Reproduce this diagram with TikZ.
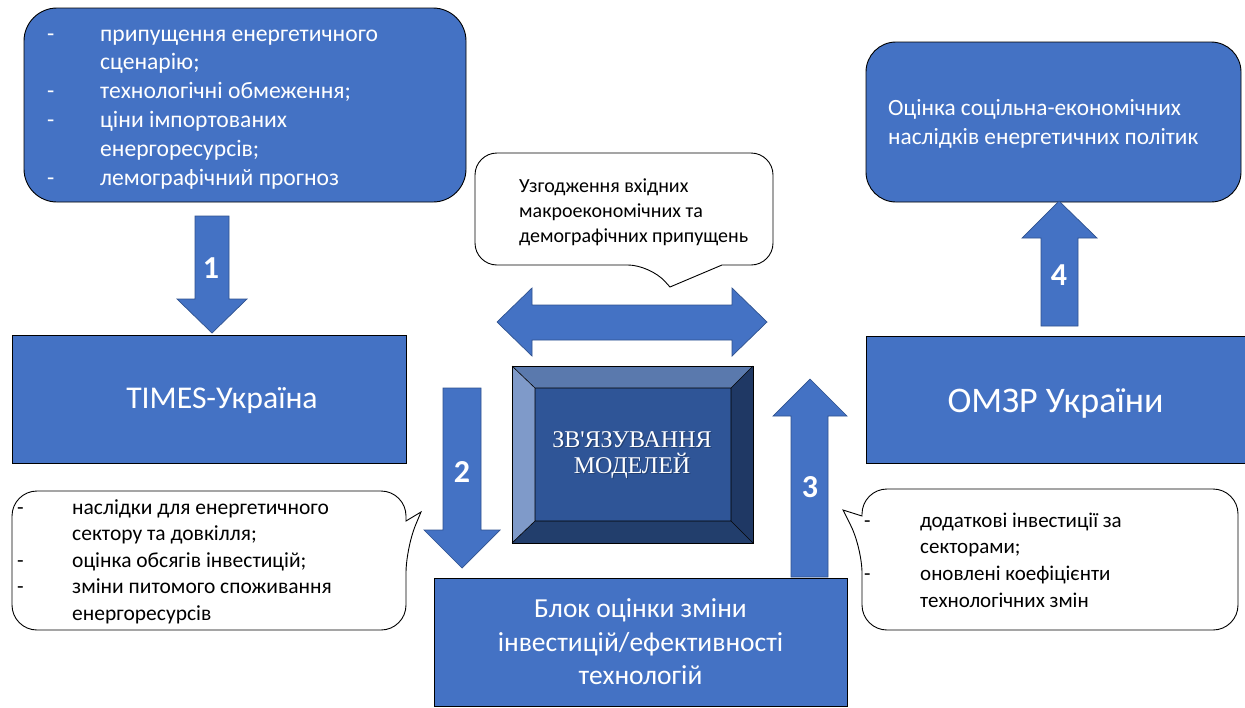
\documentclass[tikz,border=0pt]{standalone}
\usepackage{fontspec}
\setmainfont{Carlito}
\newfontfamily\bevelfont{Liberation Serif}
\definecolor{ofblue}{HTML}{4472C4}
\definecolor{ofedge}{HTML}{2F528F}
\definecolor{bvtop}{HTML}{5A79AD}
\definecolor{bvleft}{HTML}{7F9AC9}
\definecolor{bvright}{HTML}{1F3864}
\definecolor{bvbottom}{HTML}{223E6C}
\definecolor{bvcenter}{HTML}{2F5597}
\tikzset{
  bluebox/.style={draw=black, line width=0.9pt, fill=ofblue, inner sep=0pt},
  blockarrow/.style={draw=ofedge, line width=0.7pt, fill=ofblue},
  callout/.style={draw=black, line width=0.9pt, fill=white},
  numlabel/.style={text=white, font=\fontsize{32}{36}\selectfont\bfseries, inner sep=0pt},
  whitetext/.style={text=white, inner sep=0pt},
  blacktext/.style={text=black, inner sep=0pt},
}
\begin{document}
\begin{tikzpicture}[x=1pt,y=-1pt]
\useasboundingbox (0,0) rectangle (1245,707);
\fill[white] (0,0) rectangle (1245,707);

% top-left input box
\node[bluebox, rounded corners=33pt, minimum width=442pt, minimum height=194pt] (inbox) at (245,105) {};
\node[whitetext, anchor=base west, font=\fontsize{23.6}{28.8}\selectfont] (intext) at (47,41)
 {\begin{tabular}[t]{@{}p{53pt}@{}l@{}}
 - & припущення енергетичного\\
   & сценарію;\\
 - & технологічні обмеження;\\
 - & ціни імпортованих\\
   & енергоресурсів;\\
 - & лемографічний прогноз
 \end{tabular}};

% top-right output box
\node[bluebox, rounded corners=30pt, minimum width=375pt, minimum height=160pt] (outbox) at (1053.5,122) {};
\node[whitetext, anchor=base west, font=\fontsize{23.3}{29}\selectfont] (outtext) at (888,115)
 {\begin{tabular}[t]{@{}l@{}}Оцінка соцільна-економічних\\наслідків енергетичних політик\end{tabular}};

% model boxes
\node[bluebox, minimum width=394pt, minimum height=128pt] (times) at (209,399) {};
\node[whitetext, font=\fontsize{31.7}{36}\selectfont] (timestext) at (222,401) {TIMES-Україна};
\node[bluebox, minimum width=384pt, minimum height=127pt] (omzr) at (1058,399.5) {};
\node[whitetext, font=\fontsize{36}{40}\selectfont] (omzrtext) at (1055.5,403) {ОМЗР України};
\node[bluebox, minimum width=413pt, minimum height=128pt, font=\fontsize{27.5}{33.5}\selectfont, text=white, align=center] (block) at (640.5,642)
 {Блок оцінки зміни\\інвестицій/ефективності\\технологій};

% top callout
\draw[callout, rounded corners=22pt] (600,153) -- (475,153) -- (475,265) -- (650,265)
  [sharp corners] -- (670,287) -- (722,265) [rounded corners=22pt] -- (773,265) -- (773,153) -- cycle;
\node[blacktext, anchor=base west, font=\fontsize{20}{25}\selectfont] (calltext) at (519,192)
 {\begin{tabular}[t]{@{}l@{}}Узгодження вхідних\\макроекономічних та\\демографічних припущень\end{tabular}};

% bottom-left callout
\draw[callout, rounded corners=25pt] (200,491) -- (12,491) -- (12,630) -- (406,630) -- (406,548)
  [sharp corners] -- (421,512) -- (406,521) [rounded corners=25pt] -- (406,491) -- cycle;
\node[blacktext, anchor=base west, font=\fontsize{21.5}{26.5}\selectfont] (bltext) at (17,514)
 {\begin{tabular}[t]{@{}p{55pt}@{}l@{}}
 - & наслідки для енергетичного\\
   & сектору та довкілля;\\
 - & оцінка обсягів інвестицій;\\
 - & зміни питомого споживання\\
   & енергоресурсів
 \end{tabular}};

% bottom-right callout
\draw[callout, rounded corners=25pt] (1050,489) -- (1238,489) -- (1238,630) -- (862,630) -- (862,548)
  [sharp corners] -- (843,510) -- (862,516) [rounded corners=25pt] -- (862,489) -- cycle;
\node[blacktext, anchor=base west, font=\fontsize{21}{26.7}\selectfont] (brtext) at (864,527)
 {\begin{tabular}[t]{@{}p{56pt}@{}l@{}}
 - & додаткові інвестиції за\\
   & секторами;\\
 - & оновлені коефіцієнти\\
   & технологічних змін
 \end{tabular}};

% bevelled centre box
\fill[bvtop] (512,366) -- (753,366) -- (731,388) -- (535,388) -- cycle;
\fill[bvleft] (512,366) -- (535,388) -- (535,521) -- (512,543) -- cycle;
\fill[bvright] (753,366) -- (753,543) -- (731,521) -- (731,388) -- cycle;
\fill[bvbottom] (512,543) -- (535,521) -- (731,521) -- (753,543) -- cycle;
\fill[bvcenter] (535,388) rectangle (731,521);
\draw[black, line width=0.6pt] (512,366) -- (535,388) (753,366) -- (731,388)
  (512,543) -- (535,521) (753,543) -- (731,521) (535,388) rectangle (731,521);
\draw[black, line width=1pt] (512,366) rectangle (753,543);
\node[text=bvright, opacity=0.7, font=\bevelfont\fontsize{24}{26.5}\selectfont, align=center, inner sep=0pt] at (633.2,456.2)
 {ЗВ'ЯЗУВАННЯ\\МОДЕЛЕЙ};
\node[whitetext, font=\bevelfont\fontsize{24}{26.5}\selectfont, align=center] (link) at (632,455)
 {ЗВ'ЯЗУВАННЯ\\МОДЕЛЕЙ};

% block arrows
\draw[blockarrow] (195,216) -- (229,216) -- (229,299) -- (247,299) -- (212,333) -- (177,299) -- (195,299) -- cycle;
\draw[blockarrow] (443,388) -- (481,388) -- (481,530) -- (500,530) -- (462,568) -- (424,530) -- (443,530) -- cycle;
\draw[blockarrow] (791,577) -- (828,577) -- (828,416) -- (847,416) -- (810,379) -- (773,416) -- (791,416) -- cycle;
\draw[blockarrow] (1041,326) -- (1078,326) -- (1078,238) -- (1097,238) -- (1059,201) -- (1022,238) -- (1041,238) -- cycle;
\draw[blockarrow] (497,322) -- (532,288) -- (532,305) -- (732,305) -- (732,288) -- (767,322)
  -- (732,356) -- (732,340) -- (532,340) -- (532,356) -- cycle;

\node[numlabel] (n1) at (211,268) {1};
\node[numlabel] (n2) at (462,472) {2};
\node[numlabel] (n3) at (810,487) {3};
\node[numlabel] (n4) at (1059,275) {4};
\end{tikzpicture}
\end{document}
